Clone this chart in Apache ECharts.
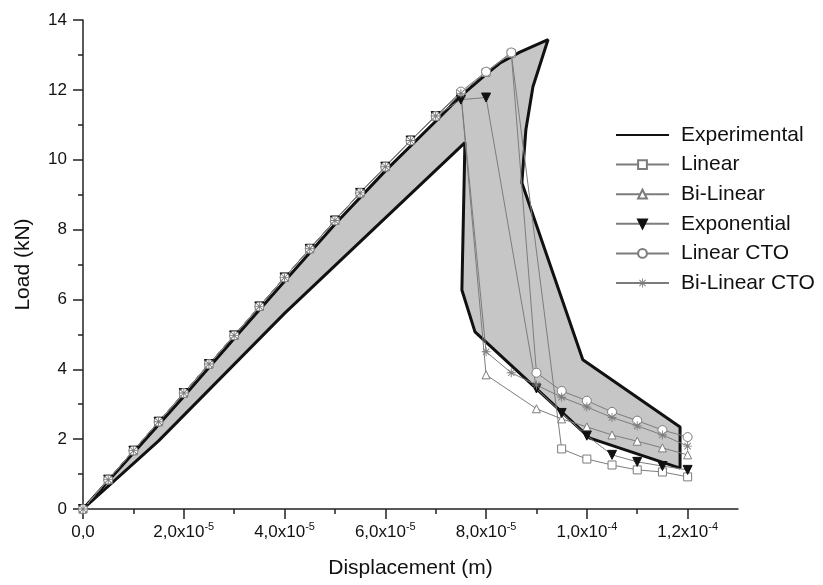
<!DOCTYPE html>
<html>
<head>
<meta charset="utf-8">
<script src="https://cdn.jsdelivr.net/npm/echarts@6/dist/echarts.min.js"></script>
<style>
html, body { margin: 0; padding: 0; background: #fff; }
#chart { width: 823px; height: 585px; }
</style>
</head>
<body>
<div id="chart"></div>
<script>
// displacement is kept in units of 1e-5 m, load in kN

// experimental envelope (closed outline, walked round)
const expDisp = [0, 1, 2, 3, 4, 5, 6, 7, 7.48, 7.98, 8.27, 8.67, 9.23,
                 8.93, 8.79, 8.71, 9.92, 11.85, 11.85,
                 10.06, 7.78, 7.52, 7.58, 4, 1.5, 0];
const expLoad = [0, 1.6, 3.22, 4.88, 6.52, 8.15, 9.68, 11.1, 11.8, 12.42, 12.76, 13.08, 13.44,
                 12.09, 10.86, 9.34, 4.27, 2.35, 1.17,
                 2.03, 5.07, 6.27, 10.49, 5.6, 1.95, 0];

// rising branch, shared by every model
const riseDisp = [0, 0.5, 1, 1.5, 2, 2.5, 3, 3.5, 4, 4.5, 5, 5.5, 6, 6.5, 7];
const riseLoad = [0, 0.84, 1.67, 2.5, 3.32, 4.15, 4.97, 5.8, 6.63, 7.45, 8.26, 9.05, 9.8, 10.55, 11.25];

const linearDisp = [7.5, 8, 8.5, 9.5, 10, 10.5, 11, 11.5, 12];
const linearLoad = [11.9, 12.5, 13.05, 1.72, 1.43, 1.26, 1.12, 1.06, 0.92];

const biLinearDisp = [7.5, 8, 9, 9.5, 10, 10.5, 11, 11.5, 12];
const biLinearLoad = [11.9, 3.84, 2.87, 2.58, 2.35, 2.12, 1.94, 1.75, 1.55];

const expoDisp = [7.5, 8, 9, 9.5, 10, 10.5, 11, 11.5, 12];
const expoLoad = [11.72, 11.78, 3.45, 2.75, 2.1, 1.55, 1.35, 1.23, 1.12];

const linCtoDisp = [7.5, 8, 8.5, 9, 9.5, 10, 10.5, 11, 11.5, 12];
const linCtoLoad = [11.95, 12.52, 13.07, 3.9, 3.38, 3.1, 2.78, 2.53, 2.26, 2.06];

const biLinCtoDisp = [7.5, 8, 8.5, 9, 9.5, 10, 10.5, 11, 11.5, 12];
const biLinCtoLoad = [11.9, 4.5, 3.9, 3.55, 3.2, 2.92, 2.62, 2.38, 2.12, 1.8];

// x tick labels: mantissa and power of ten
const xTickMant = ['0,0', '2,0', '4,0', '6,0', '8,0', '1,0', '1,2'];
const xTickExp = ['', '-5', '-5', '-5', '-5', '-4', '-4'];
const xMajorTicks = [0, 2, 4, 6, 8, 10, 12];

function pairs(xs, ys) {
    return xs.map((x, i) => [x, ys[i]]);
}
function model(tailX, tailY) {
    return pairs(riseDisp.concat(tailX), riseLoad.concat(tailY));
}

const FONT = 'Liberation Sans, Arial, sans-serif';
const GRAY = '#7c7c7c';
const asterisk = 'path://M0,9L20,9L20,11L0,11Z M9,0L11,0L11,20L9,20Z ' +
    'M2.2,3.6L3.6,2.2L17.8,16.4L16.4,17.8Z M16.4,2.2L17.8,3.6L3.6,17.8L2.2,16.4Z';

function modelSeries(name, data, symbol, extra) {
    return Object.assign({
        name: name,
        type: 'line',
        data: data,
        z: 3,
        symbol: symbol,
        symbolSize: 8,
        lineStyle: { color: GRAY, width: 1 },
        itemStyle: { color: '#fff', borderColor: GRAY, borderWidth: 1 }
    }, extra || {});
}

let myChart = echarts.init(document.getElementById('chart'));
let option = {
    animation: false,
    backgroundColor: '#fff',
    textStyle: { fontFamily: FONT },
    grid: { left: 83, right: 85, top: 20, bottom: 76 },
    legend: {
        orient: 'vertical',
        left: 615,
        top: 124,
        padding: 0,
        itemWidth: 53,
        itemHeight: 11,
        itemGap: 7.6,
        textStyle: { fontFamily: FONT, fontSize: 21, color: '#111', lineHeight: 22, padding: [0, 0, 0, 7] },
        data: ['Experimental', 'Linear', 'Bi-Linear', 'Exponential', 'Linear CTO', 'Bi-Linear CTO']
    },
    xAxis: {
        type: 'value',
        min: 0,
        max: 13,
        interval: 2,
        name: 'Displacement (m)',
        nameLocation: 'middle',
        nameGap: 49,
        nameTextStyle: { fontFamily: FONT, fontSize: 21, color: '#111' },
        splitLine: { show: false },
        axisLine: { lineStyle: { color: '#222', width: 1.5 } },
        axisTick: { length: 10, customValues: xMajorTicks, lineStyle: { color: '#222', width: 1.5 } },
        minorTick: { show: true, splitNumber: 2, length: 5, lineStyle: { color: '#222', width: 1.5 } },
        axisLabel: {
            margin: 14,
            color: '#111',
            formatter: function (v) {
                let i = Math.round(v / 2);
                if (Math.abs(v - i * 2) > 1e-6 || i >= xTickMant.length) return '';
                if (!xTickExp[i]) return '{m|' + xTickMant[i] + '}';
                return '{m|' + xTickMant[i] + 'x10}{e|' + xTickExp[i] + '}';
            },
            rich: {
                m: { fontFamily: FONT, fontSize: 17, color: '#111', lineHeight: 18 },
                e: { fontFamily: FONT, fontSize: 11, color: '#111', lineHeight: 11, padding: [0, 0, 10, 0] }
            }
        }
    },
    yAxis: {
        type: 'value',
        min: 0,
        max: 14,
        interval: 2,
        name: 'Load (kN)',
        nameLocation: 'middle',
        nameGap: 49,
        nameTextStyle: { fontFamily: FONT, fontSize: 21, color: '#111' },
        splitLine: { show: false },
        axisLine: { show: true, lineStyle: { color: '#222', width: 1.5 } },
        axisTick: { show: true, length: 10, lineStyle: { color: '#222', width: 1.5 } },
        minorTick: { show: true, splitNumber: 2, length: 5, lineStyle: { color: '#222', width: 1.5 } },
        axisLabel: { margin: 16, fontFamily: FONT, fontSize: 17, color: '#111' }
    },
    series: [
        {
            type: 'custom',
            silent: true,
            z: 1,
            data: [0],
            renderItem: function (params, api) {
                return {
                    type: 'polygon',
                    shape: { points: expDisp.map((d, i) => api.coord([d, expLoad[i]])) },
                    style: { fill: '#c6c6c6', stroke: 'none' }
                };
            }
        },
        {
            name: 'Experimental',
            type: 'line',
            z: 2,
            showSymbol: false,
            symbol: 'circle',
            data: pairs(expDisp, expLoad),
            lineStyle: { color: '#111', width: 3 },
            itemStyle: { color: 'rgba(0,0,0,0)' }
        },
        modelSeries('Linear', model(linearDisp, linearLoad), 'rect'),
        modelSeries('Bi-Linear', model(biLinearDisp, biLinearLoad), 'triangle'),
        modelSeries('Exponential', model(expoDisp, expoLoad), 'triangle', {
            symbolRotate: 180,
            symbolSize: 9,
            itemStyle: { color: '#111', borderColor: '#111', borderWidth: 1 }
        }),
        modelSeries('Linear CTO', model(linCtoDisp, linCtoLoad), 'circle', { symbolSize: 9 }),
        modelSeries('Bi-Linear CTO', model(biLinCtoDisp, biLinCtoLoad), asterisk, {
            symbolSize: 9,
            itemStyle: { color: GRAY, borderWidth: 0 }
        })
    ]
};
myChart.setOption(option);
</script>
</body>
</html>
